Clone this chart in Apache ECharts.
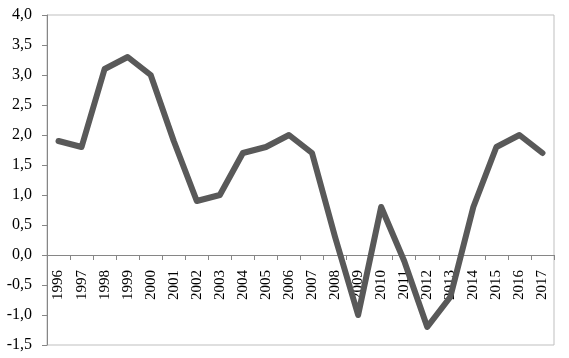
<!DOCTYPE html>
<html>
<head>
<meta charset="utf-8">
<script src="https://cdn.jsdelivr.net/npm/echarts@6/dist/echarts.min.js"></script>
<style>html,body{margin:0;padding:0;background:#fff;}#c{width:569px;height:358px;}</style>
</head>
<body>
<div id="c"></div>
<script>
const years = ['1996','1997','1998','1999','2000','2001','2002','2003','2004','2005','2006','2007','2008','2009','2010','2011','2012','2013','2014','2015','2016','2017'];
const values = [1.9, 1.8, 3.1, 3.3, 3.0, 1.9, 0.9, 1.0, 1.7, 1.8, 2.0, 1.7, 0.3, -1.0, 0.8, -0.1, -1.2, -0.7, 0.8, 1.8, 2.0, 1.7];
const yMin = -1.5, yMax = 4.0, yStep = 0.5;

const chart = echarts.init(document.getElementById('c'));
chart.setOption({
  animation: false,
  grid: {left: 47, right: 15, top: 15, bottom: 13, show: true, borderColor: '#BFBFBF', borderWidth: 1, outerBoundsMode: 'none', containLabel: false},
  xAxis: {
    type: 'category', data: years, boundaryGap: true, position: 'bottom', offset: -90, z: 0,
    axisLine: {onZero: false, lineStyle: {color: '#868686', width: 1}},
    axisTick: {show: true, length: 5, lineStyle: {color: '#868686'}},
    axisLabel: {rotate: 90, margin: 15, color: '#000', fontFamily: 'Liberation Serif', fontSize: 15, interval: 0}
  },
  yAxis: {
    type: 'value', min: yMin, max: yMax, interval: yStep,
    axisLine: {show: true, lineStyle: {color: '#868686', width: 1}},
    axisTick: {show: true, length: 5, lineStyle: {color: '#868686'}},
    splitLine: {show: false},
    axisLabel: {margin: 15, color: '#000', fontFamily: 'Liberation Serif', fontSize: 16,
      formatter: v => v.toFixed(1).replace('.', ',')}
  },
  series: [{
    type: 'line', data: values, symbol: 'none', zlevel: 1,
    lineStyle: {color: '#595959', width: 6, cap: 'round', join: 'round'}
  }]
});
</script>
</body>
</html>
